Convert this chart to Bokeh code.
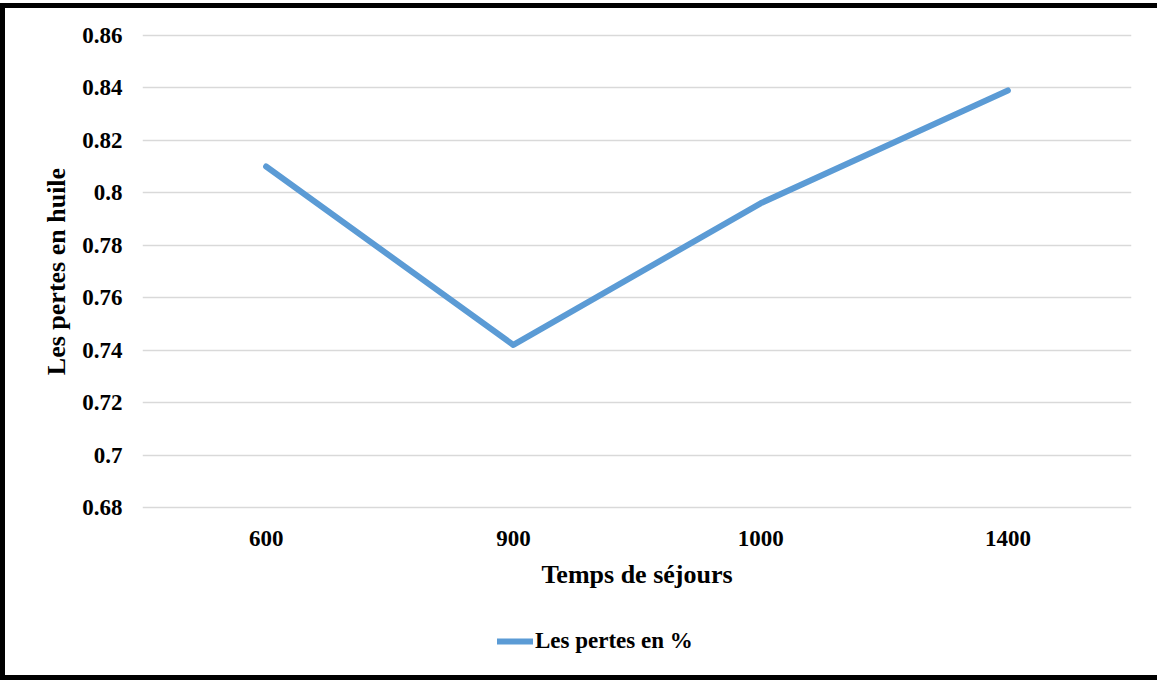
from bokeh.plotting import figure
from bokeh.layouts import column
from bokeh.models import FactorRange, Range1d, FixedTicker, Legend, LegendItem
from bokeh.embed import file_html
from bokeh.resources import INLINE

# ---- data ----
categories = ["600", "900", "1000", "1400"]
pertes = [0.810, 0.742, 0.796, 0.839]
y_ticks = [0.68, 0.70, 0.72, 0.74, 0.76, 0.78, 0.80, 0.82, 0.84, 0.86]
y_tick_labels = ["0.68", "0.7", "0.72", "0.74", "0.76", "0.78", "0.8", "0.82", "0.84", "0.86"]
series_name = "Les pertes en %"
x_title = "Temps de séjours"
y_title = "Les pertes en huile"

FONT = "Liberation Serif"
BLUE = "#5B9BD5"
W = 1152
H_MAIN = 610
H_LEG = 57

p = figure(
    width=W, height=H_MAIN,
    x_range=FactorRange(factors=categories, range_padding=0),
    y_range=Range1d(0.6793, 0.8607),
    output_backend="svg", toolbar_location=None,
    min_border_left=137, min_border_right=26,
    min_border_top=25, min_border_bottom=H_MAIN - 501,
)
p.outline_line_color = None
p.background_fill_color = "white"
p.border_fill_color = "white"

r = p.line(categories, pertes, line_color=BLUE, line_width=6, line_cap="round", line_join="round")

# grid
p.xgrid.grid_line_color = None
p.ygrid.grid_line_color = "#D9D9D9"
p.ygrid.grid_line_width = 1.5
p.yaxis.ticker = FixedTicker(ticks=y_ticks)
p.yaxis.major_label_overrides = {t: l for t, l in zip(y_ticks, y_tick_labels)}

for ax in (p.xaxis[0], p.yaxis[0]):
    ax.axis_line_color = None
    ax.major_tick_line_color = None
    ax.minor_tick_line_color = None
    ax.major_tick_out = 0
    ax.major_tick_in = 0
    ax.major_label_text_font = FONT
    ax.major_label_text_font_style = "bold"
    ax.major_label_text_font_size = "23px"
    ax.major_label_text_color = "black"
    ax.axis_label_text_font = FONT
    ax.axis_label_text_font_style = "bold"
    ax.axis_label_text_font_size = "26px"
    ax.axis_label_text_color = "black"

p.xaxis.axis_label = x_title
p.yaxis.axis_label = y_title
p.xaxis.major_label_standoff = 21
p.xaxis.axis_label_standoff = 11
p.yaxis.major_label_standoff = 20
p.yaxis.axis_label_standoff = 8

# ---- legend strip below the chart ----
pl = figure(
    width=W, height=H_LEG,
    x_range=Range1d(0, 1), y_range=Range1d(10, 11),
    x_axis_type=None, y_axis_type=None,
    output_backend="svg", toolbar_location=None,
    min_border=0,
)
pl.outline_line_color = None
pl.grid.visible = False
pl.border_fill_color = "white"
# the series is drawn out of this strip's view; it only supplies the legend swatch
r_leg = pl.line(x=list(range(len(pertes))), y=pertes, line_color=BLUE, line_width=6, line_cap="round")

legend = Legend(
    items=[LegendItem(label=series_name, renderers=[r_leg])],
    location=(355, 21),
    orientation="horizontal",
    border_line_color=None,
    background_fill_alpha=0,
    padding=0, margin=0,
    glyph_width=36, label_standoff=2,
    label_text_font=FONT, label_text_font_style="bold",
    label_text_font_size="23px", label_text_color="black",
)
pl.add_layout(legend, "center")

layout = column(p, pl, spacing=0)
layout.styles = {
    "box-sizing": "content-box",
    "border-left": "5px solid black",
    "border-top": "5px solid black",
    "border-bottom": "5px solid black",
    "margin-top": "3px",
    "background-color": "white",
}

open("out.html", "w").write(file_html(layout, INLINE))
